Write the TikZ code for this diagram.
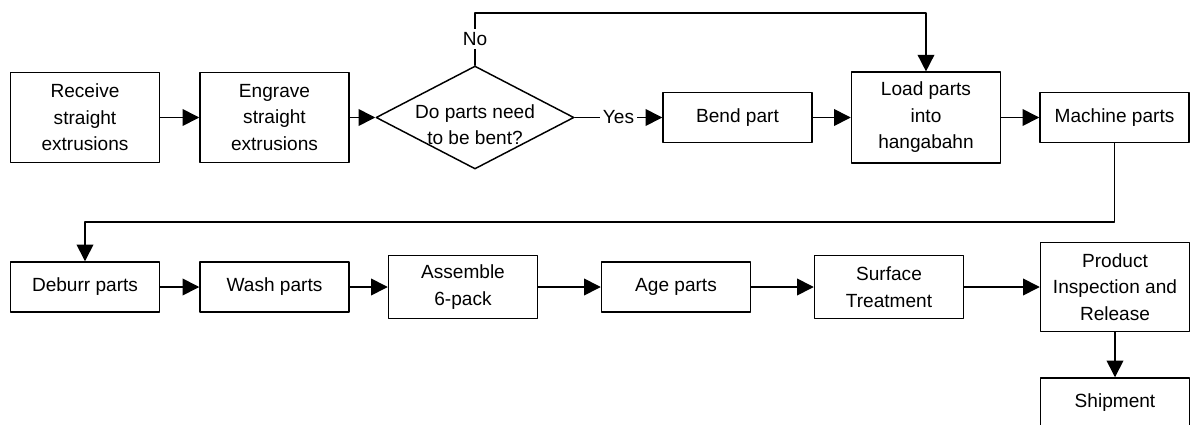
\documentclass[tikz,border=0pt]{standalone}
\usepackage{fontspec}
\setmainfont{Liberation Sans}
\usetikzlibrary{arrows.meta,shapes.geometric}

\begin{document}
\begin{tikzpicture}[x=0.75pt,y=-0.75pt,>={Triangle[length=12.5pt,width=12.5pt]},line cap=round,line join=round,
    txt/.style={font=\fontsize{14.3}{19.9}\selectfont,align=center},
    procbox/.style={txt,draw,line width=1.1pt,rectangle,minimum width=111.75pt,inner sep=0pt},
    decision/.style={draw,diamond,line width=1.1pt,minimum width=148.5pt,minimum height=77.25pt,inner sep=0pt},
    flow/.style={->,line width=1.2pt},
    lbl/.style={txt,fill=white,inner sep=2.5pt}]
            \useasboundingbox (0,0) rectangle (1190,425);

            \node[procbox,minimum height=67.5pt] (recv) at (85,117.5) {Receive\\straight\\extrusions};
            \node[procbox,minimum height=67.5pt] (engr) at (274.5,117.5) {Engrave\\straight\\extrusions};
            \node[decision] (bent) at (475,117.5) {};
            \node[txt] (bentq) at (475,124.5) {Do parts need\\to be bent?};
            \node[procbox,minimum height=37.5pt] (bend) at (737.5,117.5) {Bend part};
            \node[procbox,minimum height=68pt] (load) at (926,117.5) {Load parts\\into\\hangabahn};
            \node[procbox,minimum height=37.5pt] (mach) at (1114.5,117.5) {Machine parts};

            \node[procbox,minimum height=37.5pt] (debr) at (85,287) {Deburr parts};
            \node[procbox,minimum height=37.5pt] (wash) at (274.5,287) {Wash parts};
            \node[procbox,minimum height=47.25pt] (asmb) at (463,287) {Assemble\\6-pack};
            \node[procbox,minimum height=37.5pt] (age) at (676,287) {Age parts};
            \node[procbox,minimum height=47.25pt] (surf) at (889,287) {Surface\\Treatment};
            \node[procbox,minimum height=66.75pt] (insp) at (1115,287) {Product\\Inspection and\\Release};
            \node[procbox,minimum height=37.5pt] (ship) at (1115,403) {Shipment};

            \coordinate (top) at (475,13);
            \coordinate (ret) at (85,222);

            \draw[flow] (recv) -- (engr);
            \draw[flow] (engr) -- (bent);
            \draw[flow] (bent.east) -- node[lbl] {Yes} (bend.west);
            \draw[flow] (bent.north) -- node[lbl] {No} (top) -| (load.north);
            \draw[flow] (bend) -- (load);
            \draw[flow] (load) -- (mach);
            \draw[flow] (mach.south) |- (ret) -- (debr.north);

            \draw[flow] (debr) -- (wash);
            \draw[flow] (wash) -- (asmb);
            \draw[flow] (asmb) -- (age);
            \draw[flow] (age) -- (surf);
            \draw[flow] (surf) -- (insp);
            \draw[flow] (insp) -- (ship);
        \end{tikzpicture}
\end{document}
